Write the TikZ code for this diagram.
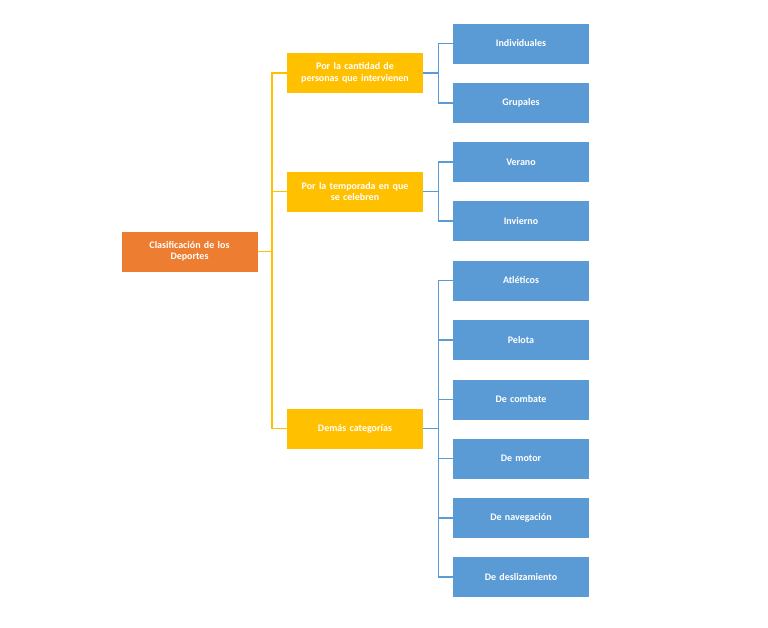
\documentclass[tikz,border=0pt]{standalone}
\usepackage{fontspec}
\setmainfont{Carlito}
\definecolor{org}{HTML}{ED7D31}
\definecolor{yel}{HTML}{FFC000}
\definecolor{blu}{HTML}{5B9BD5}
\begin{document}
\begin{tikzpicture}[x=1pt,y=-1pt,
  box/.style={minimum width=136pt,minimum height=40pt,text width=130pt,align=center,text=white,font=\fontsize{10}{11.5}\selectfont\bfseries,inner sep=0pt},
  rootbox/.style={box,fill=org},
  ybox/.style={box,fill=yel},
  bbox/.style={box,fill=blu},
  yl/.style={yel,line width=1.2pt},
  bl/.style={blu,line width=1.2pt}]
\useasboundingbox (0,0) rectangle (768,627);
\fill[white] (0,0) rectangle (768,627);
\node[rootbox] (r) at (189.5,251.5) {Clasificación de los\\Deportes};
\node[ybox] (y1) at (355,73) {Por la cantidad de\\personas que intervienen};
\node[ybox] (y2) at (355,191.5) {Por la temporada en que\\se celebren};
\node[ybox] (y3) at (355,428.5) {Demás categorías};
\foreach \n/\y/\t in {b1/43.5/Individuales,b2/103/Grupales,b3/162/Verano,b4/221/Invierno,b5/280.5/Atléticos,b6/340/Pelota,b7/399.5/De combate,b8/458.5/De motor,b9/518/De navegación,b10/577/De deslizamiento}
  \node[bbox] (\n) at (521,\y) {\t};
\coordinate (j) at (272,251.5);
\draw[yl] (r.east) -- (j);
\foreach \t in {y1,y2,y3} \draw[yl] (j) |- (\t.west);
\foreach \t in {b1,b2} \draw[bl] (y1.east) -- ++(15,0) |- (\t.west);
\foreach \t in {b3,b4} \draw[bl] (y2.east) -- ++(15,0) |- (\t.west);
\foreach \t in {b5,b6,b7,b8,b9,b10} \draw[bl] (y3.east) -- ++(15,0) |- (\t.west);
\end{tikzpicture}
\end{document}
